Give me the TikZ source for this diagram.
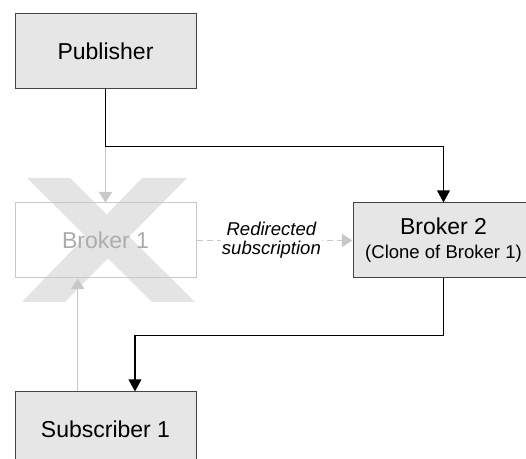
\documentclass[tikz,border=0pt]{standalone}
\usepackage{fontspec}
\setmainfont{Liberation Sans}
\usetikzlibrary{arrows.meta}

\definecolor{boxfill}{RGB}{230,230,230}
\definecolor{boxline}{RGB}{68,68,68}
\definecolor{ghostline}{RGB}{200,200,200}
\definecolor{ghosttext}{RGB}{172,172,172}
\definecolor{crossfill}{RGB}{228,228,228}

\tikzset{
  box/.style={draw=boxline, fill=boxfill, line width=0.75pt, minimum width=135.75pt, minimum height=56.25pt, inner sep=0pt, align=center, font=\fontsize{17.25}{19}\selectfont},
  ghostbox/.style={box, draw=ghostline, fill=none, text=ghosttext},
  conn/.style={draw=black, line width=0.9pt, -{Triangle[length=9pt,width=9.5pt]}},
  ghostconn/.style={draw=ghostline, line width=0.8pt, -{Triangle[length=8pt,width=10pt]}},
}

\begin{document}
\begin{tikzpicture}[x=0.75pt,y=0.75pt,yscale=-1,xscale=1]
\useasboundingbox (0,0) rectangle (526,459);

%Shape: Cross [id:cross1]
\fill [crossfill] (27,178) -- (70,178) -- (195,302) -- (152,302) -- cycle ;
\fill [crossfill] (142,178) -- (187,178) -- (65,302) -- (22,302) -- cycle ;

%Shape: Rectangle [id:pub]
\node [box] (pub) at (105.5,51.5) {Publisher};
%Shape: Rectangle [id:brk1]
\node [ghostbox] (brk1) at (105.5,240.5) {Broker 1};
%Shape: Rectangle [id:brk2]
\node [box] (brk2) at (443.5,240.5) {Broker 2\\[-1pt]{\fontsize{13.9}{16}\selectfont (Clone of Broker 1)}};
%Shape: Rectangle [id:sub1]
\node [box] (sub1) at (105.5,429.5) {Subscriber 1};

%Straight Lines [id:old1]
\draw [ghostconn] (pub.south) -- (brk1.north) ;
%Straight Lines [id:old2]
\draw [ghostconn] ([xshift=-20.85pt]sub1.north) -- ([xshift=-20.85pt]brk1.south) ;
%Straight Lines [id:redir]
\draw [ghostconn, dash pattern=on 4.5pt off 3pt] (brk1.east) -- node [pos=0.48, fill=white, inner sep=1pt, text=black, align=center, font=\fontsize{13.9}{14.5}\selectfont\itshape] {Redirected\\subscription} (brk2.west) ;
%Straight Lines [id:new1]
\draw [conn] (pub.south) -- ++(0,57) -| (brk2.north) ;
%Straight Lines [id:new2]
\draw [conn] (brk2.south) -- ++(0,57) -| ([xshift=22.1pt]sub1.north) ;

\end{tikzpicture}
\end{document}
